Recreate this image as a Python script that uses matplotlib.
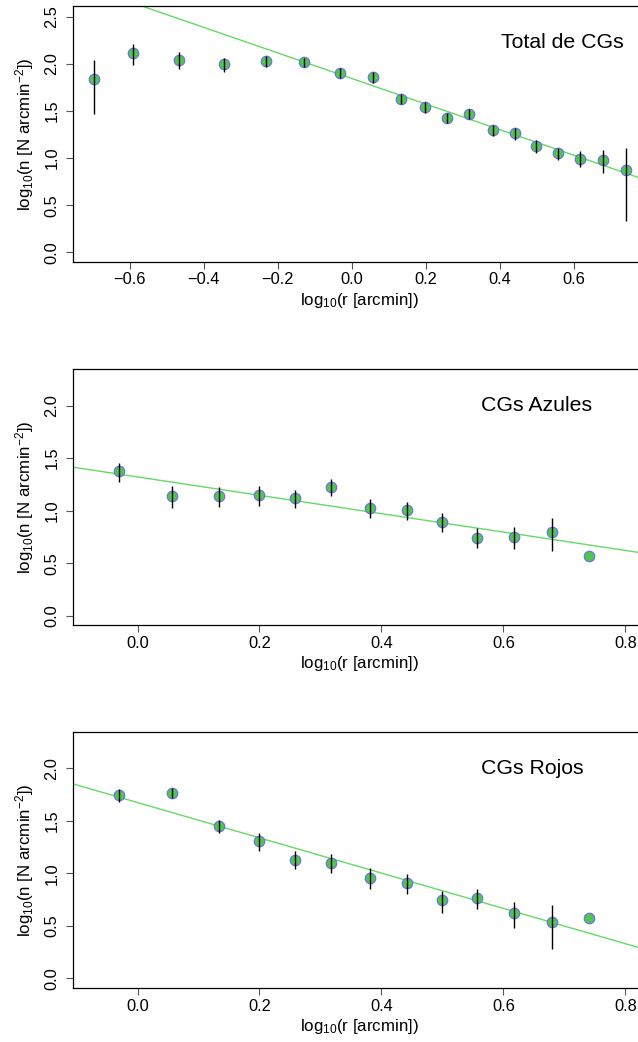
import numpy as np
import matplotlib
matplotlib.use("Agg")
import matplotlib.pyplot as plt

plt.rcParams['font.family'] = ['Liberation Sans', 'DejaVu Sans']
plt.rcParams['mathtext.fontset'] = 'custom'
plt.rcParams['mathtext.rm'] = 'Liberation Sans'
plt.rcParams['mathtext.it'] = 'Liberation Sans:italic'
plt.rcParams['mathtext.bf'] = 'Liberation Sans:bold'

# ---- data ----
x_tot = [-0.696, -0.590, -0.466, -0.344, -0.231, -0.128, -0.031, 0.057, 0.133, 0.199,
         0.259, 0.318, 0.381, 0.442, 0.499, 0.557, 0.617, 0.679, 0.741]
y_tot = [1.843, 2.112, 2.041, 1.995, 2.030, 2.016, 1.900, 1.857, 1.624, 1.540,
         1.430, 1.465, 1.299, 1.264, 1.130, 1.056, 0.992, 0.982, 0.872]
hi_tot = [2.041, 2.210, 2.122, 2.059, 2.083, 2.060, 1.953, 1.910, 1.677, 1.590,
          1.483, 1.518, 1.350, 1.317, 1.193, 1.105, 1.070, 1.088, 1.109]
lo_tot = [1.465, 1.988, 1.946, 1.917, 1.970, 1.970, 1.847, 1.800, 1.571, 1.476,
          1.370, 1.412, 1.230, 1.193, 1.059, 0.982, 0.904, 0.847, 0.335]

x_sub = [-0.031, 0.057, 0.133, 0.199, 0.259, 0.318, 0.381, 0.442, 0.499, 0.557,
         0.617, 0.679, 0.741]
y_az = [1.375, 1.140, 1.143, 1.152, 1.117, 1.229, 1.029, 1.006, 0.895, 0.743,
        0.752, 0.794, 0.571]
hi_az = [1.457, 1.235, 1.222, 1.238, 1.197, 1.302, 1.111, 1.086, 0.981, 0.832,
         0.848, 0.927, np.nan]
lo_az = [1.276, 1.022, 1.038, 1.044, 1.022, 1.143, 0.933, 0.911, 0.800, 0.641,
         0.635, 0.619, np.nan]

y_ro = [1.746, 1.762, 1.451, 1.305, 1.130, 1.095, 0.959, 0.908, 0.743, 0.762,
        0.619, 0.540, 0.571]
hi_ro = [1.800, 1.810, 1.508, 1.381, 1.213, 1.181, 1.048, 0.997, 0.835, 0.848,
         0.730, 0.698, np.nan]
lo_ro = [1.683, 1.714, 1.381, 1.216, 1.038, 1.000, 0.854, 0.806, 0.625, 0.663,
         0.483, 0.276, np.nan]

# linear fits: (intercept, slope)
fit_tot = (1.845, -1.355)
fit_az = (1.321, -0.875)
fit_ro = (1.674, -1.680)

titles = ["Total de CGs", "CGs Azules", "CGs Rojos"]

panels = [
    dict(x=x_tot, y=y_tot, hi=hi_tot, lo=lo_tot, fit=fit_tot, title=titles[0],
         xlim=(-0.7524, 0.797), ylim=(-0.102, 2.613),
         xticks=[-0.6, -0.4, -0.2, 0.0, 0.2, 0.4, 0.6],
         yticks=[0.0, 0.5, 1.0, 1.5, 2.0, 2.5],
         tpos=(0.404, 2.225), rect_top=6.0),
    dict(x=x_sub, y=y_az, hi=hi_az, lo=lo_az, fit=fit_az, title=titles[1],
         xlim=(-0.1055, 0.8345), ylim=(-0.092, 2.346),
         xticks=[0.0, 0.2, 0.4, 0.6, 0.8],
         yticks=[0.0, 0.5, 1.0, 1.5, 2.0],
         tpos=(0.564, 2.0), rect_top=369.3),
    dict(x=x_sub, y=y_ro, hi=hi_ro, lo=lo_ro, fit=fit_ro, title=titles[2],
         xlim=(-0.1055, 0.8345), ylim=(-0.095, 2.343),
         xticks=[0.0, 0.2, 0.4, 0.6, 0.8],
         yticks=[0.0, 0.5, 1.0, 1.5, 2.0],
         tpos=(0.564, 2.0), rect_top=732.3),
]

W, H = 638, 1042
fig = plt.figure(figsize=(W / 100, H / 100), dpi=100)

ax_left = 73.2 / W
ax_w = (646.4 - 73.2) / W
ax_h = 256.0 / H

tick_fs = 11.8
lab_fs = 12.2

for p in panels:
    bottom = 1 - (p['rect_top'] + 256.0) / H
    ax = fig.add_axes([ax_left, bottom, ax_w, ax_h])
    ax.set_xlim(*p['xlim'])
    ax.set_ylim(*p['ylim'])
    a, b = p['fit']
    ax.axline((0, a), slope=b, color='#66d966', lw=1.0, zorder=1)
    x = np.array(p['x'])
    y = np.array(p['y'])
    hi = np.array(p['hi'])
    lo = np.array(p['lo'])
    ax.plot(x, y, 'o', ms=7.6, mfc='#52c452', mec='#6a6af0', mew=0.8,
            zorder=2, clip_on=False)
    m = np.isfinite(hi) & np.isfinite(lo)
    ax.vlines(x[m], lo[m], hi[m], color='black', lw=1.0, zorder=3)

    ax.set_xticks(p['xticks'])
    ax.set_yticks(p['yticks'])
    ax.set_xticklabels([f"{v:.1f}".replace('-', '\u2212') for v in p['xticks']])
    ax.set_yticklabels([f"{v:.1f}" for v in p['yticks']])
    ax.tick_params(axis='both', direction='out', length=5, width=0.8,
                   color='#555555', labelsize=tick_fs)
    ax.tick_params(axis='x', pad=2.5)
    ax.tick_params(axis='y', pad=10.4, labelrotation=90)
    for lbl in ax.get_yticklabels():
        lbl.set_ha('center')
        lbl.set_va('center')
    for s in ax.spines.values():
        s.set_linewidth(0.9)
        s.set_color('black')

    ax.set_xlabel(r'log$_{10}$(r [arcmin])', fontsize=lab_fs)
    ax.set_ylabel(r'log$_{10}$(n [N arcmin$^{-2}$])', fontsize=lab_fs)
    ax.xaxis.set_label_coords(0.5, -38.0 / 256.0)
    ax.xaxis.label.set_va('center')
    ax.yaxis.set_label_coords((24.4 - 73.2) / 573.2, 0.5)
    ax.yaxis.label.set_va('center')

    ax.text(p['tpos'][0], p['tpos'][1], p['title'], fontsize=15.3,
            ha='left', va='center')

fig.savefig('out.png', dpi=100)
